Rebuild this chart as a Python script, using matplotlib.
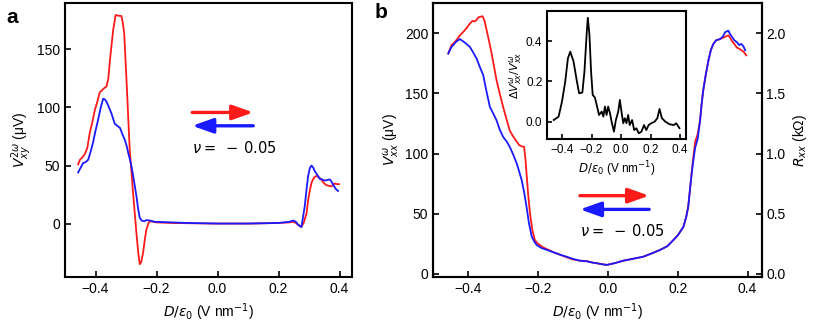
import numpy as np
import matplotlib
matplotlib.use("Agg")
from matplotlib import pyplot as plt

# === PARAMETERS ===
plt.rcParams['font.family'] = ['Liberation Sans', 'DejaVu Sans']
plt.rcParams['mathtext.fontset'] = 'dejavusans'
plt.rcParams['font.size'] = 10
plt.rcParams['axes.linewidth'] = 1.5
plt.rcParams['xtick.direction'] = 'in'
plt.rcParams['ytick.direction'] = 'in'
plt.rcParams['xtick.major.width'] = 1.2
plt.rcParams['ytick.major.width'] = 1.2
plt.rcParams['xtick.major.size'] = 4.5
plt.rcParams['ytick.major.size'] = 4.5

RED = '#ff1a1a'
BLUE = '#1a1aff'
XLABEL = r'$D/\varepsilon_0$ (V nm$^{-1}$)'

# === DATA: panel a (V_xy^2w, uV) ===
a_red_x = [-0.457, -0.451, -0.443, -0.435, -0.427, -0.419, -0.41, -0.402, -0.394, -0.386,
           -0.378, -0.37, -0.364, -0.358, -0.353, -0.347, -0.342, -0.334, -0.325, -0.315,
           -0.31, -0.306, -0.298, -0.288, -0.277, -0.266, -0.26, -0.255, -0.25, -0.244,
           -0.238, -0.233, -0.227, -0.222, -0.2, -0.15, -0.1, 0.0, 0.1, 0.2,
           0.235, 0.248, 0.257, 0.264, 0.275, 0.283, 0.292, 0.297, 0.303, 0.308,
           0.313, 0.318, 0.324, 0.332, 0.34, 0.348, 0.357, 0.365, 0.373, 0.378,
           0.384, 0.391, 0.398]
a_red_y = [50.9, 55, 57, 60, 65, 78, 88, 98, 105, 113,
           115, 117, 118, 125, 140, 155, 167, 179.6, 179, 178.7,
           172, 164, 121, 64, 26.5, -8, -25, -35, -33, -25,
           -13, -5, 0, 2, 1, 0.5, 0.3, 0, 0, 0.5,
           1, 1.5, 0.5, -1, -3, 1, 9, 20, 29, 35,
           38, 40, 41, 40, 38, 35, 33, 32.5, 32, 33,
           34.5, 34, 34]
a_blue_x = [-0.457, -0.449, -0.441, -0.432, -0.424, -0.416, -0.408, -0.4, -0.391, -0.383,
            -0.375, -0.37, -0.364, -0.356, -0.348, -0.342, -0.337, -0.328, -0.32, -0.312,
            -0.304, -0.298, -0.293, -0.287, -0.282, -0.276, -0.271, -0.265, -0.26, -0.255,
            -0.249, -0.24, -0.233, -0.22, -0.206, -0.15, -0.1, 0.0, 0.1, 0.2,
            0.235, 0.248, 0.257, 0.264, 0.275, 0.28, 0.286, 0.292, 0.297, 0.303,
            0.308, 0.314, 0.319, 0.327, 0.335, 0.343, 0.352, 0.36, 0.368, 0.374,
            0.379, 0.387, 0.395]
a_blue_y = [44, 48, 52, 53, 55, 62, 70, 80, 90, 100,
            107.5, 107, 105, 100, 95, 90, 86, 84, 82.5, 77,
            72, 67, 61, 55, 49, 40, 32, 22, 12, 5,
            2.6, 2, 3, 2.5, 1.5, 1, 0.5, 0, 0, 0.5,
            1.5, 2.6, 1.5, -1, -3, 5, 15, 30, 41, 48,
            50, 48, 45, 42, 38.5, 38, 37, 37.5, 38, 36,
            33.6, 30, 28]

# === DATA: panel b (V_xx^w, uV) ===
b_red_x = [-0.457, -0.448, -0.44, -0.433, -0.424, -0.414, -0.405, -0.395, -0.388, -0.381,
           -0.376, -0.371, -0.365, -0.359, -0.353, -0.347, -0.34, -0.333, -0.326, -0.319,
           -0.31, -0.3, -0.29, -0.281, -0.271, -0.261, -0.254, -0.247, -0.24, -0.236,
           -0.233, -0.228, -0.223, -0.216, -0.209, -0.2, -0.185, -0.17, -0.156, -0.137,
           -0.118, -0.1, -0.08, -0.061, -0.045, -0.032, -0.015, -0.003, 0.02, 0.044,
           0.07, 0.101, 0.125, 0.149, 0.17, 0.187, 0.2, 0.216, 0.224, 0.23,
           0.235, 0.24, 0.245, 0.25, 0.257, 0.264, 0.268, 0.273, 0.28, 0.288,
           0.295, 0.302, 0.31, 0.321, 0.329, 0.336, 0.345, 0.35, 0.355, 0.362,
           0.369, 0.376, 0.383, 0.39, 0.396]
b_red_y = [183, 190, 192, 194.5, 198, 201, 204, 208, 210, 209.7,
           211, 213, 213.5, 214, 210, 202, 193, 183, 172, 161,
           150, 138.7, 128, 119, 114, 109.7, 107, 106, 105.5, 95,
           83.5, 65, 50, 36, 28, 25, 22, 20, 18, 16,
           13.8, 12, 11, 10.8, 9.5, 8.9, 8, 7.5, 9, 11,
           12.5, 14.3, 17, 19.9, 23, 28, 32, 39, 47, 55.8,
           70, 85, 98, 110, 116, 127.6, 140, 152.5, 165, 177.4,
           186, 191, 194, 195, 196, 197, 198, 196, 193.5, 191,
           188, 187, 185.7, 184, 181.5]
b_blue_x = [-0.457, -0.449, -0.443, -0.434, -0.424, -0.414, -0.405, -0.395, -0.386, -0.376,
            -0.367, -0.357, -0.348, -0.338, -0.328, -0.319, -0.31, -0.3, -0.29, -0.281,
            -0.271, -0.261, -0.254, -0.247, -0.24, -0.233, -0.226, -0.218, -0.211, -0.204,
            -0.19, -0.175, -0.156, -0.137, -0.118, -0.1, -0.08, -0.061, -0.045, -0.032,
            -0.015, -0.003, 0.02, 0.044, 0.07, 0.101, 0.125, 0.149, 0.17, 0.187,
            0.2, 0.216, 0.224, 0.23, 0.235, 0.24, 0.245, 0.25, 0.257, 0.264,
            0.268, 0.273, 0.28, 0.288, 0.295, 0.302, 0.31, 0.321, 0.329, 0.336,
            0.345, 0.35, 0.355, 0.362, 0.369, 0.376, 0.382, 0.388, 0.393]
b_blue_y = [183, 188, 190, 193, 195, 193, 191, 188.4, 184, 178.8,
            172, 165, 152, 138.7, 133, 127.6, 120, 113.8, 110, 105.5,
            99, 91.7, 85, 78, 68, 55.8, 42, 31, 27, 24,
            21.5, 20, 18, 16, 14.3, 12.5, 11, 10.5, 9.5, 8.9,
            8, 7.5, 9, 11, 12.5, 14.3, 17, 19.9, 23, 28,
            32, 39, 47, 55.8, 70, 83.5, 95, 105, 112, 127.6,
            140, 152.5, 165, 177.4, 186, 191, 194, 195, 197, 200.8,
            202, 199, 197, 194, 192.5, 190, 191, 189, 185.7]

# === DATA: inset (dV/V) ===
ins_x = [-0.456, -0.423, -0.4, -0.378, -0.36, -0.344, -0.322, -0.299, -0.284, -0.262,
         -0.248, -0.232, -0.225, -0.214, -0.203, -0.192, -0.177, -0.165, -0.149, -0.131,
         -0.12, -0.109, -0.098, -0.087, -0.075, -0.064, -0.048, -0.035, -0.019, -0.008,
         0.003, 0.015, 0.026, 0.037, 0.048, 0.059, 0.075, 0.089, 0.104, 0.12,
         0.138, 0.156, 0.171, 0.187, 0.205, 0.228, 0.246, 0.261, 0.277, 0.3,
         0.329, 0.358, 0.374, 0.396]
ins_y = [0.008, 0.025, 0.1, 0.2, 0.315, 0.348, 0.3, 0.2, 0.141, 0.145,
         0.249, 0.448, 0.517, 0.43, 0.249, 0.133, 0.12, 0.083, 0.033, 0.05,
         0.025, 0.075, 0.033, 0.075, 0.042, 0.0, -0.05, 0.008, 0.05, 0.108,
         0.05, -0.008, 0.017, -0.008, 0.033, -0.017, 0.008, -0.042, -0.033, -0.058,
         -0.05, -0.017, -0.042, -0.017, -0.008, 0.0, 0.017, 0.063, 0.017, 0.0,
         -0.013, -0.017, -0.008, -0.033]

x_ticks = [-0.4, -0.2, 0.0, 0.2, 0.4]
nu_text = r'$\nu =\ -\,0.05$'


def sweep_arrows(ax, x0, x1, y_red, y_blue):
    style = '-|>,head_length=0.45,head_width=0.16'
    ax.annotate('', xy=(x1, y_red), xytext=(x0, y_red),
                arrowprops=dict(arrowstyle=style, color=RED, lw=2.4,
                                mutation_scale=28, shrinkA=0, shrinkB=0))
    ax.annotate('', xy=(x0, y_blue), xytext=(x1, y_blue),
                arrowprops=dict(arrowstyle=style, color=BLUE, lw=2.4,
                                mutation_scale=28, shrinkA=0, shrinkB=0))


fig = plt.figure(figsize=(8.18, 3.27), dpi=100)

# === PANEL A ===
ax_a = fig.add_axes([0.0795, 0.153, 0.3505, 0.838])
ax_a.plot(a_red_x, a_red_y, color=RED, lw=1.3)
ax_a.plot(a_blue_x, a_blue_y, color=BLUE, lw=1.3)
ax_a.set_xlim(-0.5, 0.44)
ax_a.set_ylim(-46, 190)
ax_a.set_xticks(x_ticks)
ax_a.set_yticks([0, 50, 100, 150])
ax_a.set_xlabel(XLABEL)
ax_a.set_ylabel(r'$V_{xy}^{2\omega}$ (μV)', labelpad=2)
sweep_arrows(ax_a, -0.083, 0.117, 95.7, 84.2)
ax_a.text(-0.083, 65.5, nu_text, fontsize=10.5, va='center', ha='left')

# === PANEL B ===
ax_b = fig.add_axes([0.5297, 0.153, 0.4013, 0.838])
ax_b.plot(b_red_x, b_red_y, color=RED, lw=1.3)
ax_b.plot(b_blue_x, b_blue_y, color=BLUE, lw=1.3)
ax_b.set_xlim(-0.5, 0.44)
ax_b.set_ylim(-2.5, 225)
ax_b.set_xticks(x_ticks)
ax_b.set_yticks([0, 50, 100, 150, 200])
ax_b.set_xlabel(XLABEL)
ax_b.set_ylabel(r'$V_{xx}^{\omega}$ (μV)', labelpad=2)
sweep_arrows(ax_b, -0.08, 0.118, 65, 53.6)
ax_b.text(-0.08, 35.6, nu_text, fontsize=10.5, va='center', ha='left')

ax_r = ax_b.twinx()
ax_r.set_ylim(-0.025, 2.25)
ax_r.set_yticks([0.0, 0.5, 1.0, 1.5, 2.0])
ax_r.set_ylabel(r'$R_{xx}$ (kΩ)', labelpad=4)

# === INSET ===
ax_in = fig.add_axes([0.669, 0.574, 0.1696, 0.392])
ax_in.plot(ins_x, ins_y, color='black', lw=1.3)
ax_in.set_xlim(-0.5, 0.44)
ax_in.set_ylim(-0.088, 0.55)
ax_in.set_xticks(x_ticks)
ax_in.set_yticks([0.0, 0.2, 0.4])
ax_in.tick_params(labelsize=8.5, length=3.5)
ax_in.set_xlabel(XLABEL, fontsize=8.5, labelpad=2)
ax_in.set_ylabel(r'$\Delta V_{xx}^{\omega}/V_{xx}^{\omega}$', fontsize=8, labelpad=1)

fig.text(0.008, 0.975, 'a', fontsize=15, fontweight='bold', va='top')
fig.text(0.458, 0.99, 'b', fontsize=15, fontweight='bold', va='top')

fig.savefig('out.png', dpi=100)
